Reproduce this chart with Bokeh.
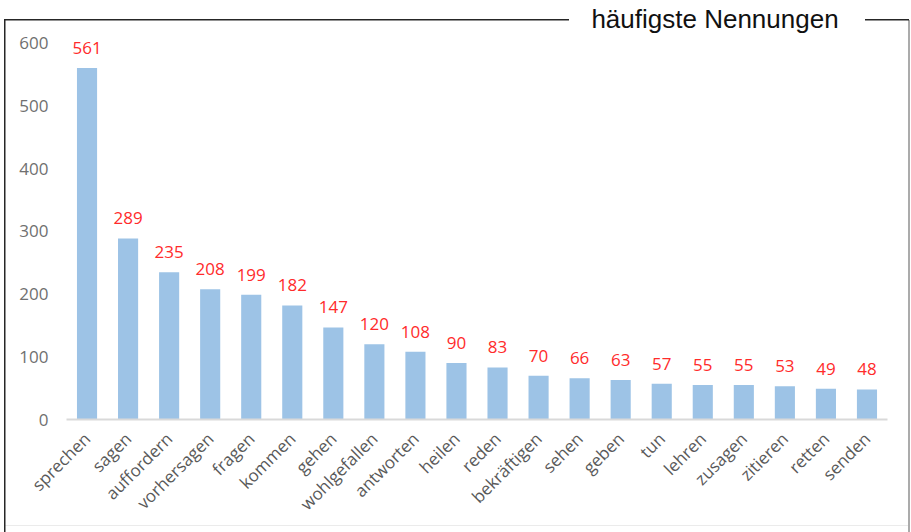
import math
from bokeh.plotting import figure
from bokeh.models import ColumnDataSource, LabelSet, Label, FixedTicker, Range1d
from bokeh.embed import file_html
from bokeh.resources import INLINE
from bokeh.core.properties import value

words = ["sprechen", "sagen", "auffordern", "vorhersagen", "fragen", "kommen", "gehen",
         "wohlgefallen", "antworten", "heilen", "reden", "bekräftigen", "sehen", "geben",
         "tun", "lehren", "zusagen", "zitieren", "retten", "senden"]
counts = [561, 289, 235, 208, 199, 182, 147, 120, 108, 90, 83, 70, 66, 63, 57, 55, 55, 53, 49, 48]
y_ticks = [0, 100, 200, 300, 400, 500, 600]
title_text = "häufigste Nennungen"

src = ColumnDataSource(dict(word=words, count=counts, label=[str(c) for c in counts]))

W, H = 911, 532
p = figure(x_range=words, y_range=Range1d(0, 668.6), width=W, height=H,
           output_backend="svg", toolbar_location=None, title=None,
           min_border_left=66, min_border_right=24, min_border_top=0, min_border_bottom=113)
p.vbar(x="word", top="count", width=0.49, source=src, fill_color="#9dc3e6", line_color=None)

labels = LabelSet(x="word", y="count", text="label", source=src, y_offset=14,
                  text_align="center", text_baseline="alphabetic", text_color="#ff2b2b",
                  text_font_size="17px", text_font=value("Open Sans"))
p.add_layout(labels)

p.xgrid.grid_line_color = None
p.ygrid.grid_line_color = None
p.outline_line_color = None
p.background_fill_color = None
p.border_fill_color = None

xa = p.xaxis[0]
xa.major_label_orientation = math.pi / 4
xa.major_tick_line_color = None
xa.minor_tick_line_color = None
xa.major_tick_out = 0
xa.major_tick_in = 0
xa.major_label_standoff = 16
xa.axis_line_color = "#d9d9d9"
xa.axis_line_width = 2
xa.major_label_text_color = "#595959"
xa.major_label_text_font = "Open Sans"
xa.major_label_text_font_size = "17px"

ya = p.yaxis[0]
ya.ticker = FixedTicker(ticks=y_ticks)
ya.axis_line_color = None
ya.major_tick_line_color = None
ya.minor_tick_line_color = None
ya.major_tick_out = 0
ya.major_tick_in = 0
ya.major_label_standoff = 18
ya.major_label_text_color = "#707070"
ya.major_label_text_font = "Open Sans"
ya.major_label_text_font_size = "17px"

# outer frame of the chart (decoration via CSS background)
p.styles = {
    "background-color": "white",
    "background-image": ("linear-gradient(#262626,#262626), linear-gradient(#262626,#262626), "
                         "linear-gradient(#262626,#262626), linear-gradient(#ababab,#ababab), "
                         "linear-gradient(#ebebeb,#ebebeb)"),
    "background-size": "565px 1.5px, 44px 1.5px, 1.5px 513px, 2px 512px, 904px 1px",
    "background-position": "4px 19px, 865px 19px, 4px 19px, 908px 20px, 4px 525px",
    "background-repeat": "no-repeat",
}

title = Label(x=714.5, y=18.7, x_units="canvas", y_units="canvas", text=title_text,
              text_align="center", text_baseline="alphabetic", text_color="#111111",
              text_font="Liberation Sans", text_font_size="26px")
p.add_layout(title)

open("out.html", "w").write(file_html(p, INLINE))
